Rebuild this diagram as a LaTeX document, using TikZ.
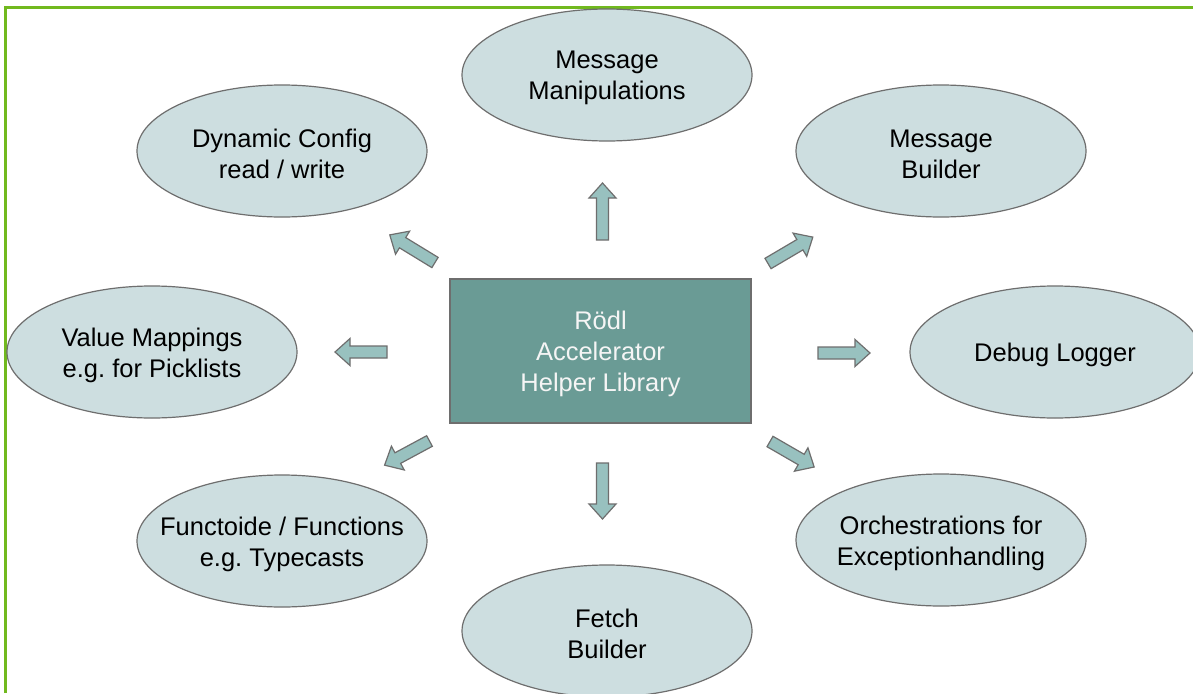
\documentclass[tikz,border=0pt]{standalone}
\usepackage{fontspec}
\setmainfont{Liberation Sans}
\usetikzlibrary{shapes.geometric}
\definecolor{frameGreen}{RGB}{113,185,30}
\definecolor{ovalFill}{RGB}{205,222,224}
\definecolor{edgeGray}{RGB}{110,110,110}
\definecolor{coreFill}{RGB}{106,155,149}
\definecolor{arrowFill}{RGB}{152,193,191}
\definecolor{coreText}{RGB}{245,245,245}
\tikzset{
  oval/.style={ellipse, draw=edgeGray, fill=ovalFill, line width=1.2pt,
    minimum width=290pt, minimum height=132pt, inner sep=0pt},
  otext/.style={align=center, text=black, inner sep=0pt, yshift=-3pt,
    font=\fontsize{25.5}{31}\selectfont},
  core/.style={rectangle, draw=edgeGray, fill=coreFill, line width=1.2pt,
    minimum width=301pt, minimum height=144pt},
  ctext/.style={otext, text=coreText},
  arrowshape/.style={draw=edgeGray, fill=arrowFill, line width=1.2pt, line join=miter},
  pics/blockarrow/.style={code={
    \draw[arrowshape] (0,-6) -- (#1-15,-6) -- (#1-15,-13.5) -- (#1,0)
      -- (#1-15,13.5) -- (#1-15,6) -- (0,6) -- cycle;}}
}
\begin{document}
\frenchspacing
\begin{tikzpicture}[x=1pt,y=-1pt]
\useasboundingbox (0,0) rectangle (1193,693);
\fill[white] (0,0) rectangle (1193,693);
% green frame (left and top edges only)
\draw[frameGreen, line width=2.8pt] (5.8,693) -- (5.8,7.2) -- (1193,7.2);

% ellipses
\node[oval] (mm) at (607,75) {};
\node[otext] at (mm) {Message\\Manipulations};
\node[oval] (dc) at (282,151) {};
\node[otext] at (dc) {Dynamic Config\\read / write};
\node[oval] (mb) at (941,151) {};
\node[otext] at (mb) {Message\\Builder};
\node[oval] (vm) at (152,352) {};
\node[otext] at (vm) {Value Mappings\\e.g. for Picklists};
\node[oval] (dl) at (1055,352) {};
\node[otext] at (dl) {Debug Logger};
\node[oval] (ff) at (282,541) {};
\node[otext] at (ff) {Functoide / Functions\\e.g. Typecasts};
\node[oval] (oe) at (941,540) {};
\node[otext] at (oe) {Orchestrations for\\Exceptionhandling};
\node[oval] (fb) at (607,631) {};
\node[otext] at (fb) {Fetch\\Builder};

% central box
\node[core] (core) at (600.5,351) {};
\node[ctext] at (core) {Rödl\\Accelerator\\Helper Library};

% block arrows
\pic[rotate=90] (aup) at (602.5,240) {blockarrow=57};
\pic[rotate=-90] (adown) at (602.5,463) {blockarrow=56};
\pic[rotate=180] (aleft) at (387,352) {blockarrow=52};
\pic[rotate=0] (aright) at (818,353) {blockarrow=52};
\pic[rotate=148.6] (aul) at (435,262.5) {blockarrow=53};
\pic[rotate=30.5] (aur) at (768,263.5) {blockarrow=52};
\pic[rotate=208.3] (all) at (429.5,441) {blockarrow=51};
\pic[rotate=-30] (alr) at (770,441.5) {blockarrow=51};
\end{tikzpicture}
\end{document}
